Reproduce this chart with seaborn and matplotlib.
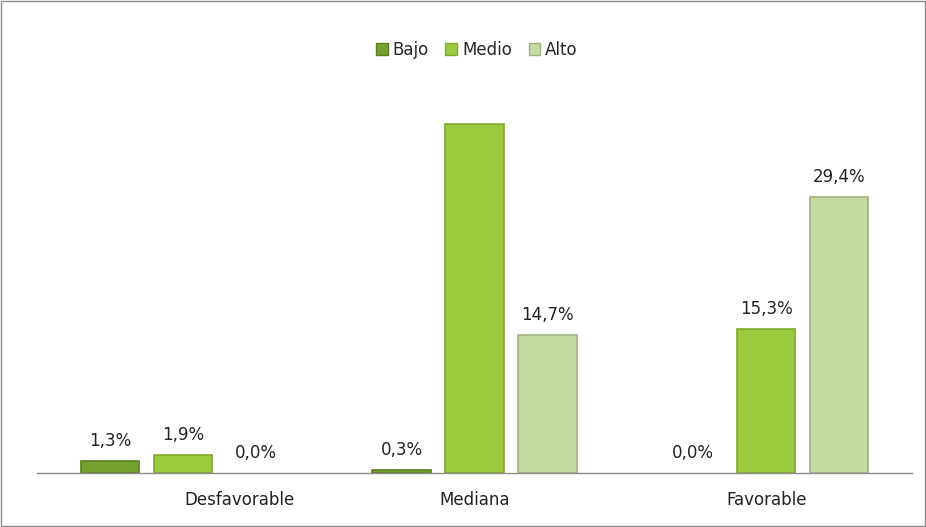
import pandas as pd
import seaborn as sns
import matplotlib.pyplot as plt
import matplotlib.transforms as mtransforms
from matplotlib.patches import Rectangle

# chart values
categories = ["Desfavorable", "Mediana", "Favorable"]
levels = ["Bajo", "Medio", "Alto"]
bajo = [1.3, 0.3, 0.0]
medio = [1.9, 37.1, 15.3]
alto = [0.0, 14.7, 29.4]
shown = [[True, True, True], [True, False, True], [True, True, True]]  # Mediana/Medio label not visible

colors = ["#74a02e", "#9cca3e", "#c5daa2"]
edges = ["#5a7f22", "#7fa92e", "#9fb282"]

rows = []
for lvl, vals in zip(levels, [bajo, medio, alto]):
    for cat, v in zip(categories, vals):
        rows.append({"Categoria": cat, "Nivel": lvl, "Valor": v})
df = pd.DataFrame(rows)

sns.set_style("white")
plt.rcParams['font.family'] = ['DejaVu Sans']

fig = plt.figure(figsize=(9.26, 5.27), dpi=100)
ax = fig.add_axes([0.04, 0.1025, 0.945, 0.7135])

sns.barplot(data=df, x="Categoria", y="Valor", hue="Nivel", order=categories,
            hue_order=levels, palette=colors, saturation=1, width=0.75, gap=0.2,
            legend=False, ax=ax)

for i, cont in enumerate(ax.containers):
    for bar in cont:
        bar.set_edgecolor(edges[i])
        bar.set_linewidth(1.2 if bar.get_height() > 0 else 0)
    labels = []
    for j, v in enumerate([bajo, medio, alto][i]):
        labels.append(f"{v:.1f}%".replace(".", ",") if shown[i][j] else "")
    ax.bar_label(cont, labels=labels, padding=8, fontsize=12, color="#222222")

ax.set_xlim(-0.5, 2.5)
ax.set_ylim(0, 40)
ax.set_xlabel("")
ax.set_ylabel("")
ax.set_yticks([])
ax.tick_params(axis="x", length=0, pad=13, labelsize=12, labelcolor="#222222")
for s in ["top", "right", "left"]:
    ax.spines[s].set_visible(False)
ax.spines["bottom"].set_color("#8c8c8c")
ax.spines["bottom"].set_linewidth(1.0)

# first category label sits further right in the original
lbl = ax.get_xticklabels()[0]
lbl.set_transform(lbl.get_transform() + mtransforms.ScaledTranslation(0.57, 0, fig.dpi_scale_trans))

handles = [Rectangle((0, 0), 1, 1, facecolor=c, edgecolor=e) for c, e in zip(colors, edges)]
fig.legend(handles, levels, loc="center", bbox_to_anchor=(0.515, 0.905), ncol=3,
           frameon=False, fontsize=12, handlelength=0.7, handleheight=0.7,
           handletextpad=0.3, columnspacing=1.0)

fig.patches.append(Rectangle((0.001, 0.001), 0.998, 0.998, transform=fig.transFigure,
                             fill=False, edgecolor="#8c8c8c", linewidth=1.0))

fig.savefig("out.png", dpi=100)
